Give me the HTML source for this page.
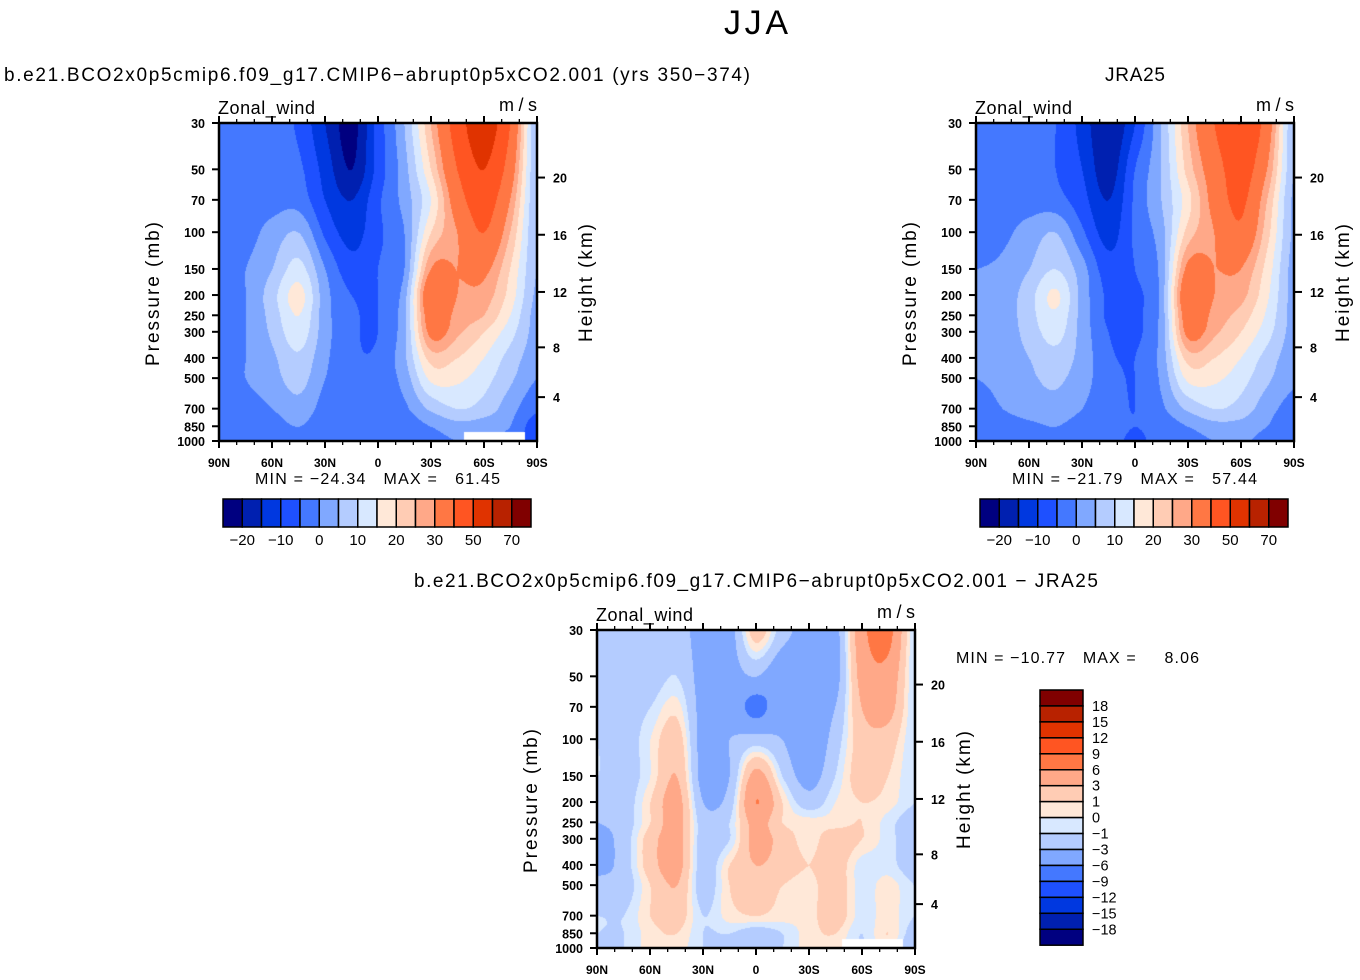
<!DOCTYPE html>
<html><head><meta charset="utf-8"><style>
body{margin:0;background:#fff;width:1360px;height:980px;overflow:hidden;font-family:"Liberation Sans",sans-serif;}
#wrap{position:relative;width:1360px;height:980px;}
canvas{position:absolute;}
svg{position:absolute;left:0;top:0;}
text{white-space:pre;}
</style></head><body>
<div id="wrap">
<canvas id="c1" width="318" height="318" style="left:219px;top:123px"></canvas>
<canvas id="c2" width="318" height="318" style="left:976px;top:123px"></canvas>
<canvas id="c3" width="318" height="318" style="left:597px;top:630px"></canvas>
<svg id="ov" width="1360" height="980"></svg>
</div>
<script>
const lats=[90,75,60,45,30,15,0,-15,-30,-45,-60,-75,-90];
const levels=[30,50,70,100,150,200,250,300,400,500,700,850,1000];
const modelVals=[
[-3,-3,-3,-6,-15,-22,-8,5,25,45,55,40,5],
[-3,-3,-3,-4,-12,-20,-8,3,20,40,50,35,5],
[-3,-3,-2,-2,-10,-15,-6,2,15,35,45,30,5],
[-3,-2,2,5,-6,-12,-6,0,20,30,40,25,5],
[-2,0,5,12,0,-8,-5,0,30,30,32,20,5],
[-2,0,8,17,2,-5,-5,3,38,30,28,18,4],
[-2,0,7,15,2,-4,-5,4,35,28,25,15,3],
[-2,0,6,13,2,-4,-5,4,32,26,20,12,3],
[-2,0,4,9,1,-4,-4,4,22,20,15,8,2],
[-2,0,3,7,0,-3,-3,2,16,16,12,6,0],
[-3,-2,0,3,-2,-3,-3,-1,6,10,8,2,-4],
[-3,-3,-2,0,-3,-3,-4,-3,0,3,2,0,-8],
[-4,-4,-3,-2,-3,-4,-5,-4,-2,0,0,-2,-8]];
const jraVals=[
[-3,-3,-4,-5,-12,-20,-10,5,25,40,50,35,5],
[-3,-3,-3,-5,-10,-18,-5,5,22,35,45,30,5],
[-2,-2,-2,-3,-8,-15,-4,5,18,33,42,25,4],
[-2,-1,2,5,-4,-12,-4,3,22,30,38,22,4],
[0,1,5,10,2,-8,-5,2,32,30,30,18,3],
[1,2,8,16,3,-6,-6,2,38,30,27,16,3],
[1,2,8,14,3,-6,-6,2,35,28,23,14,3],
[1,2,7,12,3,-5,-6,2,32,26,20,12,3],
[1,2,5,8,3,-4,-5,2,22,20,15,8,2],
[0,1,4,6,2,-3,-5,1,16,16,12,6,1],
[-1,0,2,3,0,-3,-5,-1,6,10,8,2,-2],
[-2,-2,-1,0,-2,-3,-5,-3,0,3,3,0,-3],
[-3,-3,-2,-1,-2,-3,-6,-3,-2,0,1,-2,-3]];
const diffVals=[
[-1,-2,-2,-2,-4,-4,2,-2,-4,-4,5,7,-1],
[-1,-2,-2,-1,-4,-4,-3,-5,-4,-4,4,5,-1],
[-1,-2,-1,0.5,-4,-4,-7,-4,-4,-3,3,4,-1],
[-1,-2,0,2,-4,-3,-2,-3,-5,-2,2,2,-1],
[-1,-2,0,3,-4,-3,4,-1,-4,-1,2,1,-1],
[-2,-2,1,4,-3,-2,6,1,-2,0,1,0.5,-1],
[-3,-2,1,4,-2,-1,4,1,0.5,0.5,1,-0.5,-2],
[-4,-2,2,4,-2,-1,4,2,0.5,2,1,-0.5,-2],
[-4,-2,2,4,-2,1,3,2,1,2,-0.5,-0.5,-2],
[-2,-2,1,3,-2,1,2,1,0.5,2,-0.5,0.5,-1],
[-1,-1,1,2,-1,0.5,1,0.5,0.5,2,-0.5,0.5,-1],
[-1,-1,0.5,1,-1,-1,-2,-1,0.5,1,-1,1,-2],
[-1,-1,0.5,0.5,-1,-2,-2,-1,0.5,0.5,-1,0.5,-3]];
const fieldBounds=[-20,-15,-10,-5,0,5,10,15,20,25,30,40,50,60,70];
const fieldLabels=["−20","−10","0","10","20","30","50","70"];
const diffBounds=[-18,-15,-12,-9,-6,-3,-1,0,1,3,6,9,12,15,18];
const diffLabels=["18","15","12","9","6","3","1","0","−1","−3","−6","−9","−12","−15","−18"];
const palette=["#000080","#0020b0","#0038e0","#1e50ff","#4478ff","#80a8ff","#b4ccff","#d8e8ff","#ffe8d8","#ffccb4","#ffa888","#ff7744","#ff5522","#e03300","#b82200","#800000"];
const pTicks=[30,50,70,100,150,200,250,300,400,500,700,850,1000];
const hTicks=[4,8,12,16,20];
const latTicks=["90N","60N","30N","0","30S","60S","90S"];

const W=318,H=318;
function yP(p){return Math.log(p/30)/Math.log(1000/30)*H;}
function xL(lat){return (90-lat)/180*W;}
function pOfZ(km){const z=km*1000;return z<11000?1013.25*Math.pow(1-2.25577e-5*z,5.2559):226.32*Math.exp(-(z-11000)/6341.6);}
function rgb(h){return [parseInt(h.slice(1,3),16),parseInt(h.slice(3,5),16),parseInt(h.slice(5,7),16)];}
const pal=palette.map(rgb);
function bin(v,b){let i=0;while(i<b.length&&v>=b[i])i++;return i;}
function cr(p0,p1,p2,p3,t){return 0.5*(2*p1+(-p0+p2)*t+(2*p0-5*p1+4*p2-p3)*t*t+(-p0+3*p1-3*p2+p3)*t*t*t);}
function drawField(id,vals,bounds,maskWhite){
  const ctx=document.getElementById(id).getContext('2d');
  const img=ctx.createImageData(W,H);
  const ly=levels.map(yP);
  const nr=levels.length,nc=lats.length;
  const g=(r,c)=>vals[Math.max(0,Math.min(nr-1,r))][Math.max(0,Math.min(nc-1,c))];
  for(let py=0;py<H;py++){
    let r=0;while(r<nr-2&&ly[r+1]<py)r++;
    let ty=(py-ly[r])/(ly[r+1]-ly[r]);ty=Math.max(0,Math.min(1,ty));
    for(let px=0;px<W;px++){
      const fx=px/(W-1)*(nc-1);let c=Math.min(Math.floor(fx),nc-2);const tx=fx-c;
      const rows=[];
      for(let k=-1;k<=2;k++)rows.push(cr(g(r+k,c-1),g(r+k,c),g(r+k,c+1),g(r+k,c+2),tx));
      const v=cr(rows[0],rows[1],rows[2],rows[3],ty);
      let col=pal[bin(v,bounds)];
      if(maskWhite&&px>W*0.77&&px<W*0.96&&py>H-10)col=[255,255,255];
      const k=(py*W+px)*4;img.data[k]=col[0];img.data[k+1]=col[1];img.data[k+2]=col[2];img.data[k+3]=255;
    }
  }
  ctx.putImageData(img,0,0);
}
drawField('c1',modelVals,fieldBounds,true);
drawField('c2',jraVals,fieldBounds,false);
drawField('c3',diffVals,diffBounds,true);

const NS="http://www.w3.org/2000/svg";const ov=document.getElementById('ov');
function el(tag,attrs,parent){const e=document.createElementNS(NS,tag);for(const k in attrs)e.setAttribute(k,attrs[k]);(parent||ov).appendChild(e);return e;}
function txt(x,y,s,size,anchor,parent,extra){const t=el('text',Object.assign({x:x,y:y,'font-size':size,'text-anchor':anchor||'start','font-family':'Liberation Sans, sans-serif',fill:'#000'},extra||{}),parent);t.textContent=s;return t;}

function panel(ox,oy,name,minmax,mmx,mmy,mmw){
  const g=el('g',{});
  
  
  el('rect',{x:ox,y:oy,width:W,height:H,fill:'none',stroke:'#000','stroke-width':2.5},g);
  for(let lat=90;lat>=-90;lat-=10){
    const x=ox+xL(lat);const major=lat%30===0;const len=major?7:4;
    el('line',{x1:x,y1:oy+H,x2:x,y2:oy+H+len,stroke:'#000','stroke-width':major?2:1.3},g);
    el('line',{x1:x,y1:oy,x2:x,y2:oy-len,stroke:'#000','stroke-width':major?2:1.3},g);
  }
  latTicks.forEach((s,i)=>{const t=txt(ox+i*W/6,oy+H+26,s,12,'middle',g,{'font-weight':'bold'});});
  pTicks.forEach(p=>{const y=oy+yP(p);el('line',{x1:ox-7,y1:y,x2:ox,y2:y,stroke:'#000','stroke-width':2},g);
    const t=txt(ox-14,y+5,String(p),12.5,'end',g,{'font-weight':'bold'});});
  hTicks.forEach(h=>{const y=oy+yP(pOfZ(h));el('line',{x1:ox+W,y1:y,x2:ox+W+8,y2:y,stroke:'#000','stroke-width':2},g);
    const t=txt(ox+W+16,y+5,String(h),12.5,'start',g,{'font-weight':'bold'});});
  const yl=txt(0,0,'Pressure (mb)',19,'middle',g,{transform:`translate(${ox-60},${oy+H/2+12}) rotate(-90)`,textLength:144});
  
  const yr=txt(0,0,'Height (km)',19,'middle',g,{transform:`translate(${ox+W+55},${oy+H/2+1}) rotate(-90)`,textLength:118});
  
  const zl=txt(ox-1,oy-9,'Zonal_wind',18,'start',g,{textLength:97});
  const ul=txt(ox+W,oy-12,'m/s',18,'end',g,{textLength:38});
  const mm=txt(mmx,mmy,minmax,16,'start',g,{textLength:mmw});
}
panel(219,123,'model','MIN = −24.34   MAX =   61.45',255,484,245);
panel(976,123,'jra25','MIN = −21.79   MAX =   57.44',1012,484,245);
panel(597,630,'difference','MIN = −10.77   MAX =     8.06',956,663,243);

function hbar(x0,y0,name){
  const g=el('g',{});
  
  
  const bw=19.25;
  palette.forEach((c,i)=>{const r=el('rect',{x:x0+i*bw,y:y0,width:bw,height:28,fill:c,stroke:'#000','stroke-width':1.5},g);
    });
  fieldLabels.forEach((s,i)=>{const t=txt(x0+(1+2*i)*bw,y0+46,s,15,'middle',g);});
}
hbar(223,499,'model-colorbar');
hbar(980,499,'jra25-colorbar');
(function(){
  const g=el('g',{});
  
  
  const x0=1040,y0=690,bh=15.95;
  for(let i=0;i<16;i++){const r=el('rect',{x:x0,y:y0+i*bh,width:43,height:bh,fill:palette[15-i],stroke:'#000','stroke-width':1.5},g);
    }
  diffLabels.forEach((s,i)=>{const t=txt(1092,y0+(i+1)*bh+5,s,14.5,'start',g);});
})();
const t1=txt(756,34,'JJA',34,'middle',null,{textLength:64});
const t2=txt(4,81,'b.e21.BCO2x0p5cmip6.f09_g17.CMIP6−abrupt0p5xCO2.001 (yrs 350−374)',19,'start',null,{textLength:746});
const t3=txt(1135,81,'JRA25',19,'middle',null,{textLength:60});
const t4=txt(756,587,'b.e21.BCO2x0p5cmip6.f09_g17.CMIP6−abrupt0p5xCO2.001 − JRA25',19,'middle',null,{textLength:684});
</script>
</body></html>
